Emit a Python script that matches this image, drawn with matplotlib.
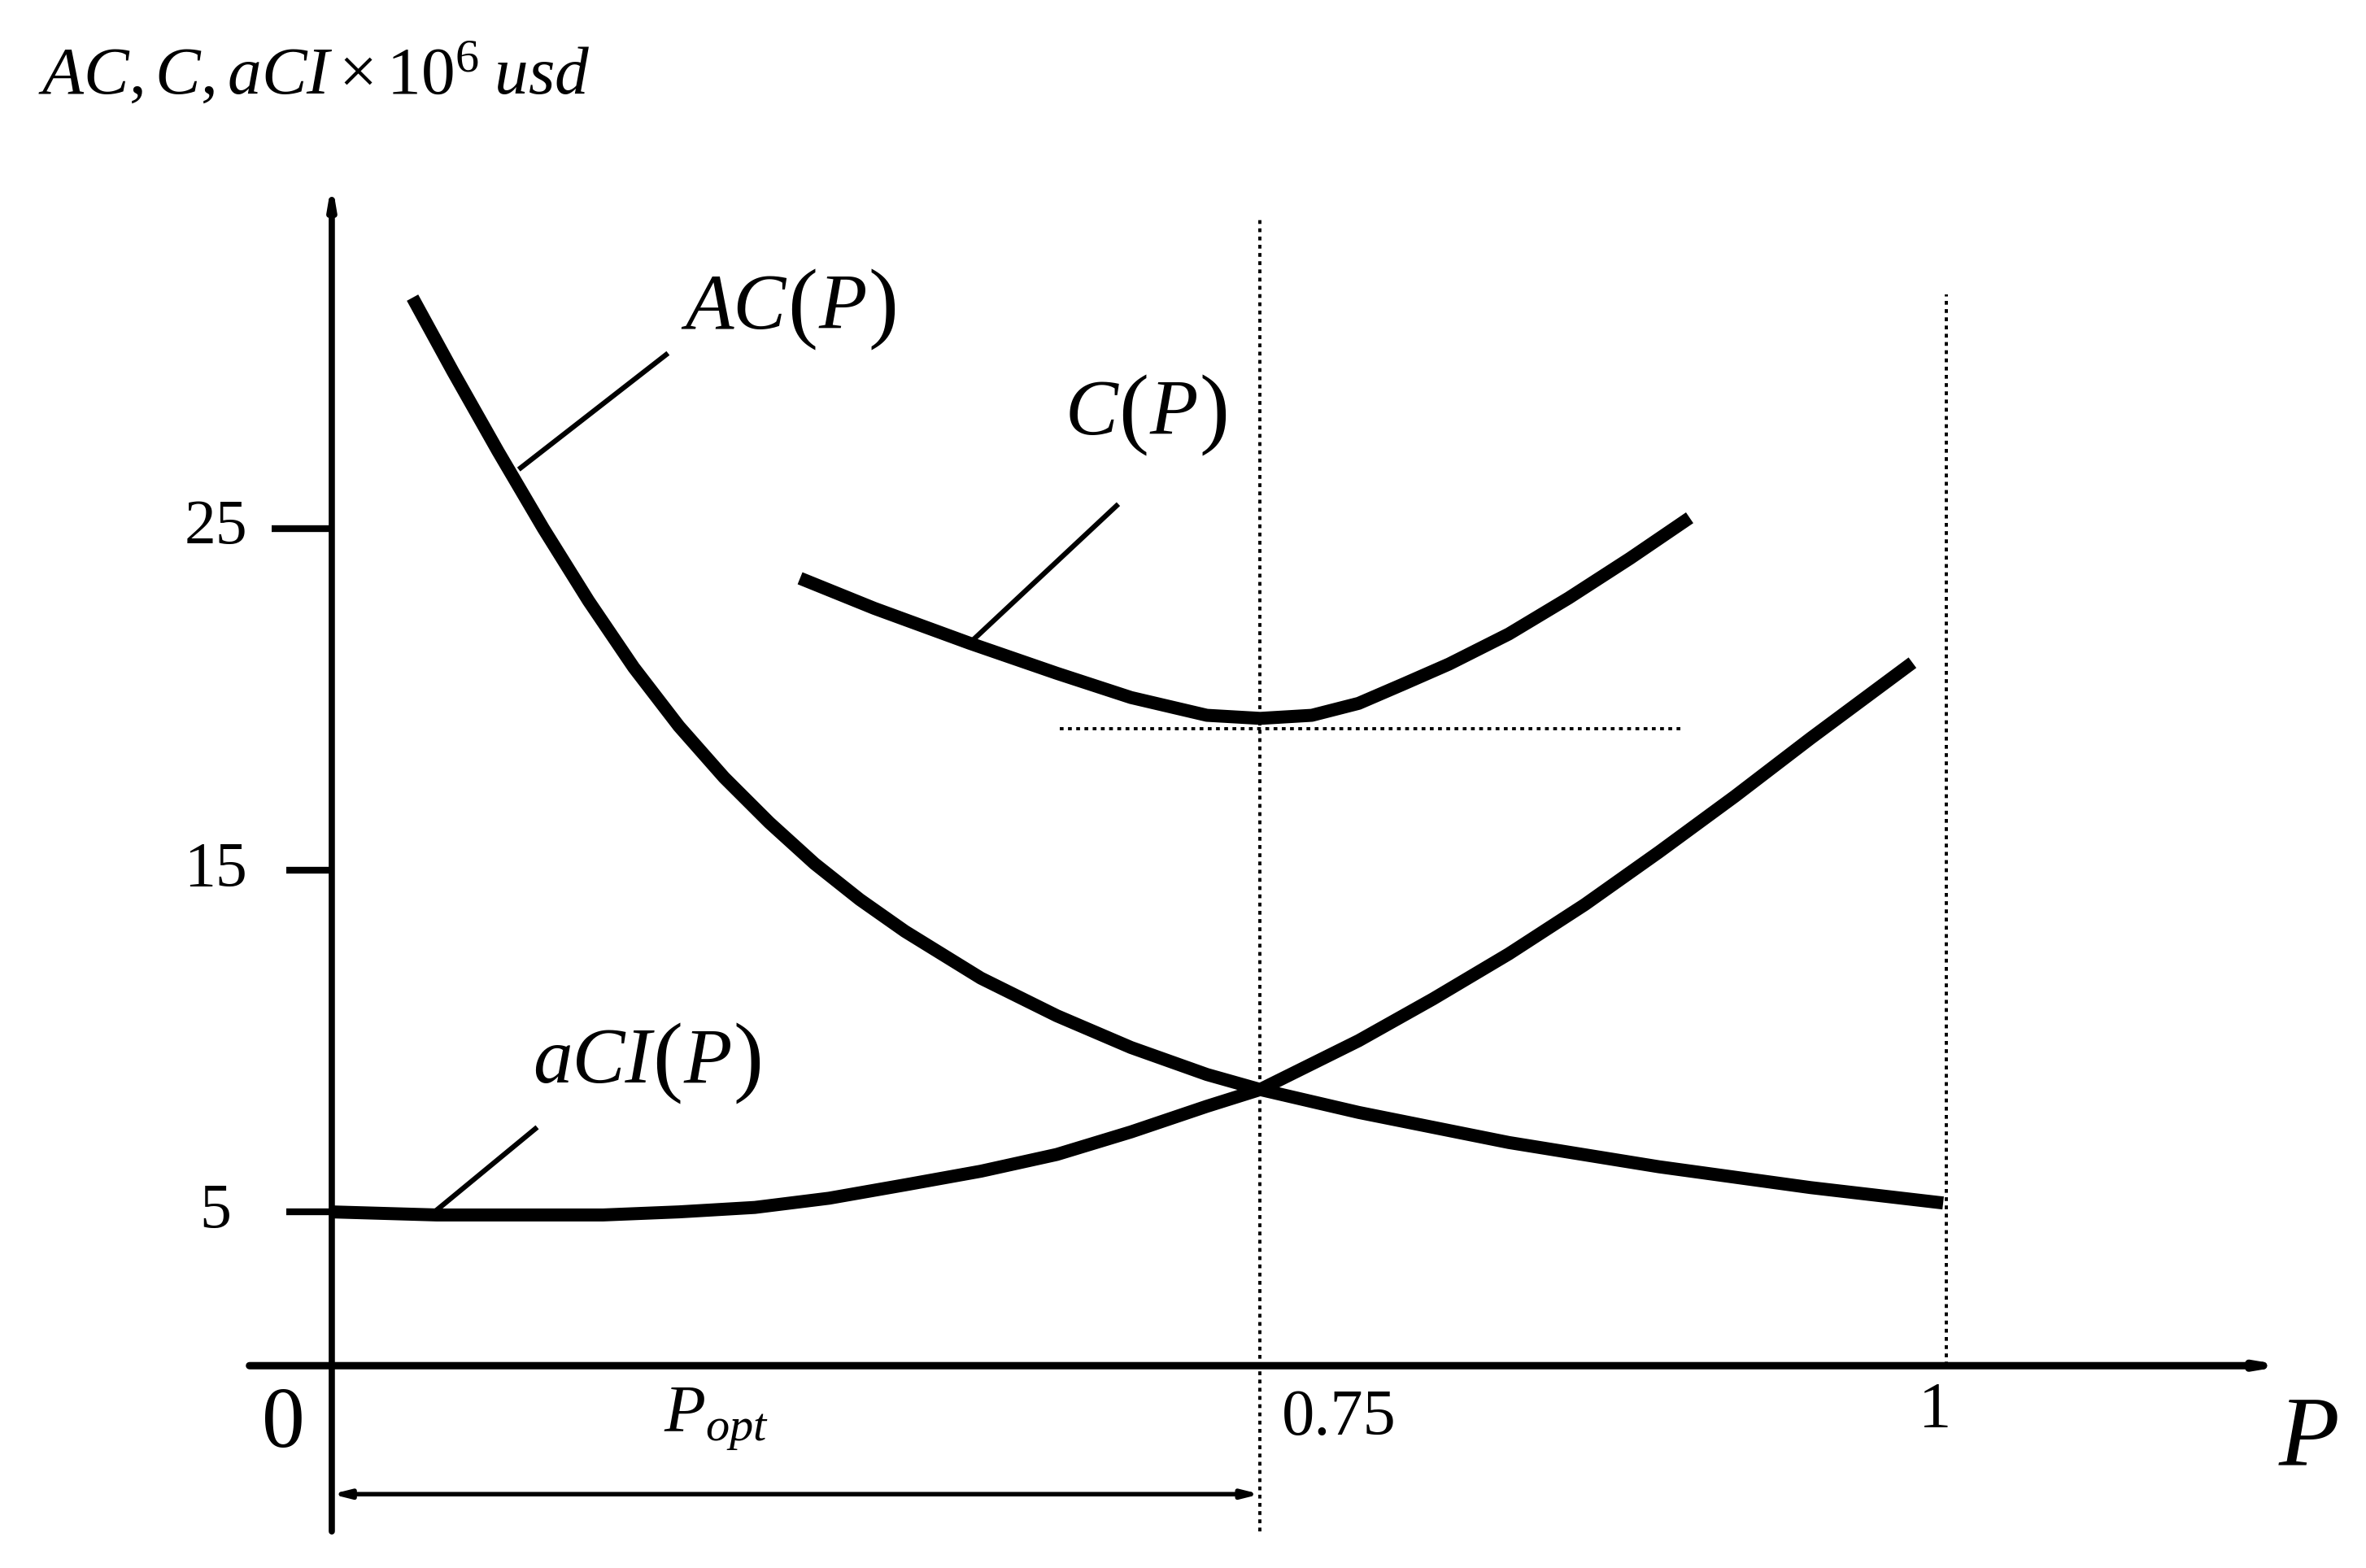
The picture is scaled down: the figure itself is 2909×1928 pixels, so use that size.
import numpy as np
import matplotlib.pyplot as plt
from matplotlib.offsetbox import TextArea, HPacker, AnnotationBbox

# schematic coordinates: P runs 0 -> 1 between the y axis and the "1" line,
# the "0.75" mark sits where the optimum dotted line is drawn
p_opt_pos = 0.575

# AC(P) curve
ac_p = [0.050, 0.075, 0.103, 0.131, 0.159, 0.187, 0.215, 0.243, 0.271, 0.299,
        0.327, 0.355, 0.402, 0.449, 0.495, 0.542, 0.575, 0.636, 0.729, 0.822,
        0.916, 0.998]
ac_v = [31.75, 29.59, 27.25, 25.00, 22.88, 20.93, 19.21, 17.71, 16.39, 15.19,
        14.14, 13.21, 11.84, 10.74, 9.81, 9.02, 8.58, 7.91, 7.03, 6.32,
        5.71, 5.26]

# C(P) curve
c_p = [0.290, 0.336, 0.395, 0.449, 0.495, 0.542, 0.575, 0.607, 0.636, 0.664,
       0.692, 0.729, 0.766, 0.804, 0.841]
c_v = [23.54, 22.66, 21.64, 20.76, 20.05, 19.53, 19.44, 19.53, 19.88, 20.45,
       21.03, 21.91, 22.96, 24.12, 25.31]

# aCI(P) curve
aci_p = [0.000, 0.065, 0.121, 0.168, 0.215, 0.262, 0.308, 0.355, 0.402, 0.449,
         0.495, 0.542, 0.575, 0.636, 0.682, 0.729, 0.776, 0.822, 0.869, 0.916, 0.979]
aci_v = [5.00, 4.91, 4.91, 4.91, 5.00, 5.13, 5.40, 5.79, 6.19, 6.68,
         7.34, 8.09, 8.58, 10.01, 11.23, 12.55, 13.99, 15.53, 17.16, 18.86, 21.07]

y_ticks = [5, 15, 25]
y_tick_labels = ["5", "15", "25"]

plt.rcParams['mathtext.fontset'] = 'custom'
plt.rcParams['mathtext.rm'] = 'Liberation Serif'
plt.rcParams['mathtext.it'] = 'Liberation Serif:italic'
plt.rcParams['font.family'] = 'Liberation Serif'


def curve_label(ax, x, y, name, size=70, paren_size=80):
    # italic name, tall upright brackets round an italic P
    it = dict(fontsize=size, fontstyle="italic", family="Liberation Serif")
    up = dict(fontsize=paren_size, family="Liberation Serif")
    parts = [TextArea(name, textprops=it), TextArea("(", textprops=up),
             TextArea("P", textprops=it), TextArea(")", textprops=up)]
    box = HPacker(children=parts, align="center", pad=0, sep=1)
    ab = AnnotationBbox(box, (x, y), frameon=False, box_alignment=(0.5, 0.5), pad=0)
    ax.add_artist(ab)


def main():
    fig = plt.figure(figsize=(29.09, 19.28), dpi=100)
    ax = fig.add_axes([0, 0, 1, 1])
    ax.set_xlim(-0.2055, 1.2599)
    ax.set_ylim(-5.42, 40.46)
    ax.axis('off')

    x_axis_y = 0.5
    dots = (0, (1.2, 1.4))

    # axes with arrows
    ax.annotate("", xy=(0, 35.15), xytext=(0, -4.35),
                arrowprops=dict(arrowstyle="-|>,head_length=1.3,head_width=0.22",
                                lw=5.5, color="black", shrinkA=0, shrinkB=0))
    ax.annotate("", xy=(1.21, x_axis_y), xytext=(-0.051, x_axis_y),
                arrowprops=dict(arrowstyle="-|>,head_length=1.3,head_width=0.22",
                                lw=6.5, color="black", shrinkA=0, shrinkB=0))

    # y ticks
    for t, lab in zip(y_ticks, y_tick_labels):
        x0 = -0.037 if t == 25 else -0.028
        ax.plot([x0, 0], [t, t], color="black", lw=6, solid_capstyle="butt")
        ax.text(-0.072, t, lab, fontsize=56, ha="center", va="center")

    # curves
    for px, pv in [(ac_p, ac_v), (c_p, c_v), (aci_p, aci_v)]:
        ax.plot(px, pv, color="black", lw=11.5, solid_joinstyle="round",
                solid_capstyle="butt")

    # dotted guide lines
    ax.plot([p_opt_pos, p_opt_pos], [-4.36, 34.05], color="black", lw=2.8,
            linestyle=dots)
    ax.plot([1.0, 1.0], [x_axis_y, 31.84], color="black", lw=2.8, linestyle=dots)
    ax.plot([0.451, 0.835], [19.13, 19.13], color="black", lw=2.8, linestyle=dots)

    # leader lines
    ax.plot([0.117, 0.207], [26.77, 30.08], color="black", lw=4.5)
    ax.plot([0.395, 0.486], [21.64, 25.66], color="black", lw=4.5)
    ax.plot([0.0636, 0.126], [5.0, 7.43], color="black", lw=4.5)

    # curve labels
    curve_label(ax, 0.285, 31.4, "AC")
    curve_label(ax, 0.505, 28.31, "C")
    curve_label(ax, 0.196, 9.33, "aCI")

    # axis texts
    ax.text(-0.182, 38.25, r"$AC,C,aCI\times10^{6}\;usd$", fontsize=60,
            ha="left", va="center")
    ax.text(-0.030, -1.27, "0", fontsize=76, ha="center", va="center")
    ax.text(0.624, -1.05, "0.75", fontsize=58, ha="center", va="center")
    ax.text(0.993, -0.83, "1", fontsize=58, ha="center", va="center")
    ax.text(1.224, -1.71, r"$P$", fontsize=88, ha="center", va="center")
    ax.text(0.238, -1.05, r"$P_{opt}$", fontsize=60, ha="center", va="center")

    # P_opt span arrow
    ax.annotate("", xy=(p_opt_pos, -3.26), xytext=(0, -3.26),
                arrowprops=dict(arrowstyle="<|-|>,head_length=1.2,head_width=0.3",
                                lw=4, color="black", shrinkA=0, shrinkB=0))

    fig.savefig("out.png", dpi=100)


if __name__ == "__main__":
    main()
